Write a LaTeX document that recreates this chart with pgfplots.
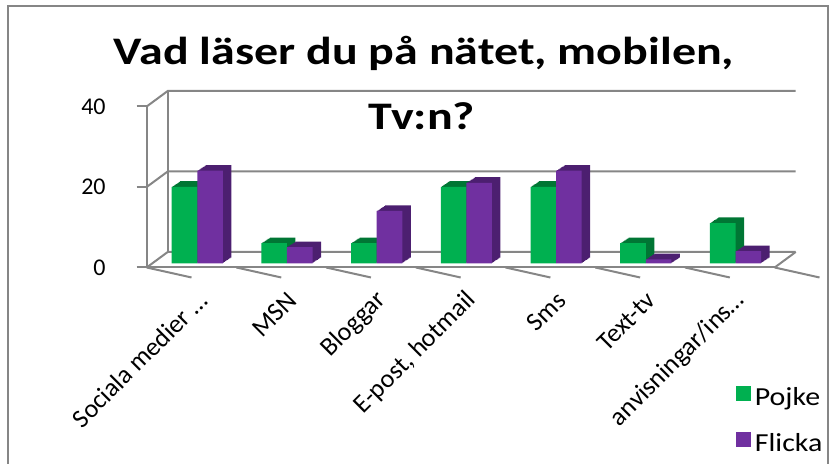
\documentclass[border=0pt]{standalone}
\usepackage{fontspec}
\setmainfont{Carlito}
\newfontfamily\titlefont[FakeStretch=1.23]{Carlito}
\newfontfamily\legendfont[FakeStretch=1.15]{Carlito}
\usepackage{pgfplots}
\usepackage{pgfplotstable}
\pgfplotsset{compat=1.18}
\definecolor{pGreen}{RGB}{0,176,80}
\definecolor{pGreenD}{RGB}{0,118,52}
\definecolor{pPurple}{RGB}{112,48,160}
\definecolor{pPurpleD}{RGB}{76,31,112}
\definecolor{axGray}{RGB}{134,134,134}

\pgfplotstableread{
x Pojke Flicka
0 19 23
1 5  4
2 5  13
3 19 20
4 19 23
5 5  1
6 10 3
}\readdata

% depth of the fake 3D box
\def\dx{10.5pt}
\def\dy{7.75pt}

\begin{document}
\begin{tikzpicture}
\useasboundingbox (0,0) rectangle (415.5pt,232pt);
\draw[axGray, line width=1pt] (4pt,-5pt) -- (4pt,228.75pt) -- (414pt,228.75pt) -- (414pt,-5pt);

\begin{axis}[
    at={(73.35pt,98.25pt)}, anchor=south west,
    scale only axis, width=314pt, height=80.5pt,
    xmin=-0.5, xmax=6.5, ymin=0, ymax=40,
    ytick={0,20,40},
    xtick={0,...,6},
    xticklabels={Sociala medier …, MSN, Bloggar, {E-post, hotmail}, Sms, Text-tv, anvisningar/ins…},
    xtick style={draw=none},
    ytick style={draw=axGray, line width=1pt},
    tick align=outside, major tick length=5pt,
    axis lines*=left,
    axis line style={draw=axGray, line width=1pt},
    yticklabel style={font=\fontsize{12}{14}\selectfont, xshift=-12pt},
    /pgf/number format/assume math mode=true,
    xticklabel style={font=\fontsize{13}{15}\selectfont, xshift=8pt, yshift=-7pt, rotate=45, anchor=east},
    clip=false,
    ybar, bar width=12.8pt,
    legend style={at={(axis description cs:0.928,-0.69)}, anchor=north west,
      draw=none, fill=none, font=\legendfont\fontsize{13}{15}\selectfont, row sep=8.5pt,
      legend cell align=left},
    legend image code/.code={\fill[#1] (0pt,-3.6pt) rectangle (7.5pt,3.6pt);},
  ]
  % back wall and floor
  \pgfplotsinvokeforeach{0,20,40}{
    \draw[axGray, line width=1pt] (axis cs:-0.5,#1) -- ([shift={(\dx,\dy)}]axis cs:-0.5,#1) -- ([shift={(\dx,\dy)}]axis cs:6.5,#1);
  }
  \draw[axGray, line width=1pt] ([shift={(\dx,\dy)}]axis cs:-0.5,0) -- ([shift={(\dx,\dy)}]axis cs:-0.5,40);
  \draw[axGray, line width=1pt] (axis cs:6.5,0) -- ([shift={(\dx,\dy)}]axis cs:6.5,0);
  \pgfplotsinvokeforeach{-0.5,0.5,...,6.5}{
    \draw[axGray, line width=1pt] (axis cs:#1,0) -- ++(0,-5pt);
  }

  % depth of the bars
  \pgfplotsinvokeforeach{8,7,...,1}{
    \addplot[draw=none, fill=pGreenD, bar shift={-3.55pt+#1*0.53pt}, yshift={2.1pt+#1*0.35pt}, forget plot]
      table[x=x, y=Pojke] {\readdata};
    \addplot[draw=none, fill=pPurpleD, bar shift={9.25pt+#1*0.53pt}, yshift={2.1pt+#1*0.35pt}, forget plot]
      table[x=x, y=Flicka] {\readdata};
  }
  % front faces
  \addplot[draw=none, fill=pGreen, bar shift=-3.55pt, yshift=2.1pt] table[x=x, y=Pojke] {\readdata};
  \addplot[draw=none, fill=pPurple, bar shift=9.25pt, yshift=2.1pt] table[x=x, y=Flicka] {\readdata};
  \legend{Pojke, Flicka}
\end{axis}

\node[anchor=base, font=\titlefont\fontsize{19.5}{22}\selectfont\bfseries] at (212pt,199.5pt) {Vad läser du på nätet, mobilen,};
\node[anchor=base, font=\titlefont\fontsize{19.5}{22}\selectfont\bfseries] at (211pt,167pt) {Tv:n?};
\end{tikzpicture}
\end{document}
